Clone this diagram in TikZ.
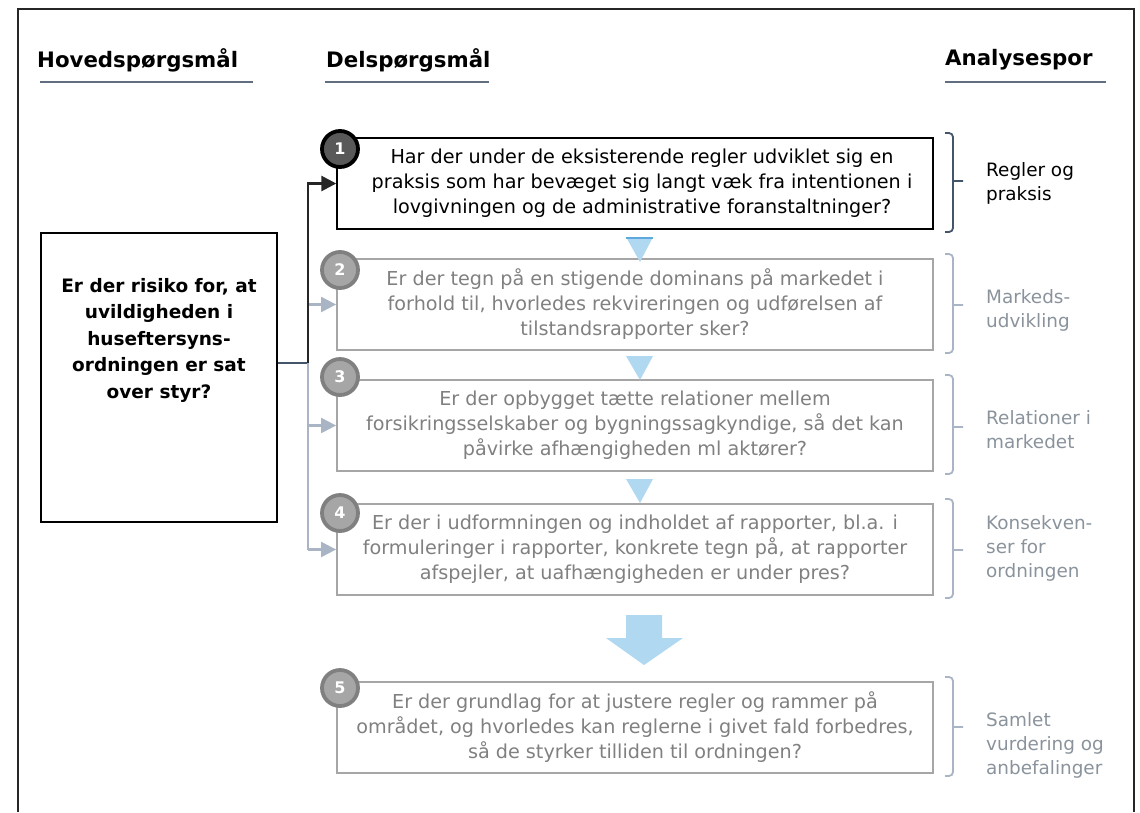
\documentclass[tikz,border=0pt]{standalone}
\usepackage{fontspec}
\setmainfont{DejaVu Sans}
\usepackage{tikz}
\usetikzlibrary{arrows.meta,calc}
\definecolor{navyline}{HTML}{44546A}
\definecolor{greyline}{HTML}{A9B4C4}
\definecolor{boxgrey}{HTML}{A6A6A6}
\definecolor{textgrey}{HTML}{808080}
\definecolor{labelgrey}{HTML}{8A939C}
\definecolor{circdark}{HTML}{595959}
\definecolor{circfill}{HTML}{A6A6A6}
\definecolor{circedge}{HTML}{808080}
\definecolor{lightblue}{HTML}{B0D8F0}
\definecolor{midblue}{HTML}{5DA9DD}

\begin{document}
\begin{tikzpicture}[x=1pt,y=-1pt,
 head/.style={anchor=west,font=\bfseries\fontsize{21.3}{24}\selectfont,inner sep=0pt},
 uline/.style={draw=navyline!85,line width=2pt},
 mainbox/.style={draw=black,line width=1.2pt,minimum width=236pt,minimum height=289pt,inner sep=0pt},
 mainq/.style={align=center,font=\bfseries\fontsize{18.5}{26.5}\selectfont,inner sep=0pt},
 subq/.style={draw=black,line width=1.4pt,minimum width=596pt,minimum height=91pt,align=center,font=\fontsize{19.2}{25}\selectfont,inner sep=0pt},
 subqg/.style={subq,draw=boxgrey,text=textgrey,line width=1.8pt},
 numc/.style={circle,minimum size=36pt,line width=3.8pt,draw=black,fill=circdark,text=white,font=\bfseries\fontsize{16}{16}\selectfont,inner sep=0pt},
 numcg/.style={numc,draw=circedge,fill=circfill},
 arr/.style={-{Triangle[length=15pt,width=15pt]},line width=2.8pt,draw=black!85},
 arrg/.style={-{Triangle[length=15pt,width=15pt]},line width=2.2pt,draw=greyline},
 brace/.style={draw=greyline,line width=1.8pt,rounded corners=4pt},
 track/.style={anchor=west,align=left,text=labelgrey,font=\fontsize{18.4}{24}\selectfont,inner sep=0pt},
 tri/.style={fill=lightblue}]
\useasboundingbox (0,0) rectangle (1140,812);
\draw[line width=2pt,black!85] (18,812) -- (18,9) -- (1134,9) -- (1134,812);

% column heads
\node[head] (hoved) at (37,60) {Hovedspørgsmål};
\node[head] (dels) at (326,60) {Delspørgsmål};
\node[head] (analyse) at (945,60) {Analysespor};
\draw[uline] (40,82) -- (253,82);
\draw[uline] (325,82) -- (489,82);
\draw[uline] (945,82) -- (1106,82);

% main question
\node[mainbox] (main) at (159,377.5) {};
\node[mainq] (mainq) at (159,340) {Er der risiko for, at\\uvildigheden i\\huseftersyns-\\ordningen er sat\\over styr?};

% sub questions
\node[subq] (q1) at (635,183.5) {\hspace*{14pt}Har der under de eksisterende regler udviklet sig en\\\hspace*{14pt}praksis som har bevæget sig langt væk fra intentionen i\\\hspace*{14pt}lovgivningen og de administrative foranstaltninger?};
\node[subqg] (q2) at (635,304.5) {Er der tegn på en stigende dominans på markedet i\\forhold til, hvorledes rekvireringen og udførelsen af\\tilstandsrapporter sker?};
\node[subqg] (q3) at (635,425.5) {Er der opbygget tætte relationer mellem\\forsikringsselskaber og bygningssagkyndige, så det kan\\påvirke afhængigheden ml aktører?};
\node[subqg] (q4) at (635,549.5) {Er der i udformningen og indholdet af rapporter, bl.a. i\\formuleringer i rapporter, konkrete tegn på, at rapporter\\afspejler, at uafhængigheden er under pres?};
\node[subqg] (q5) at (635,727.5) {Er der grundlag for at justere regler og rammer på\\området, og hvorledes kan reglerne i givet fald forbedres,\\så de styrker tilliden til ordningen?};

\node[numc] (n1) at (340,149) {1};
\node[numcg] (n2) at (340,270) {2};
\node[numcg] (n3) at (340,377) {3};
\node[numcg] (n4) at (340,513) {4};
\node[numcg] (n5) at (340,688) {5};

% connectors
\coordinate (jn) at (308,363);
\draw[line width=2.5pt,navyline] (main.east|-jn) -- (jn);
\draw[greyline,line width=2.5pt] (jn) -- (jn|-q4.west);
\draw[arrg] (jn|-q2.west) -- (q2.west);
\draw[arrg] (jn|-q3.west) -- (q3.west);
\draw[arrg] (jn|-q4.west) -- (q4.west);
\draw[arr] (jn) |- (q1.west);

% flow triangles
\fill[tri] (626,237) -- (653,237) -- (640,262) -- cycle;
\draw[midblue,line width=2.5pt] (626,238) -- (653,238);
\fill[tri] (626,356) -- (653,356) -- (640,380) -- cycle;
\fill[tri] (626,479) -- (653,479) -- (640,503) -- cycle;
\fill[tri] (626,615) -- (662,615) -- (662,638) -- (683,638) -- (644,665) -- (606,638) -- (626,638) -- cycle;

% analysis tracks
\foreach \t/\b/\m in {254/353/305,375/474/427,499/598/550,677/776/727}
  \draw[brace] (945,\t) -- (953,\t) -- (953,\b) -- (945,\b) (953,\m) -- (963,\m);
\draw[brace,draw=navyline] (945,133) -- (953,133) -- (953,232) -- (945,232) (953,181) -- (963,181);
\node[track,text=black] (t1) at (986,183) {Regler og\\praksis};
\node[track] (t2) at (986,310) {Markeds-\\udvikling};
\node[track] (t3) at (986,430) {Relationer i\\markedet};
\node[track] (t4) at (986,548) {Konsekven-\\ser for\\ordningen};
\node[track] (t5) at (986,745) {Samlet\\vurdering og\\anbefalinger};
\end{tikzpicture}
\end{document}
